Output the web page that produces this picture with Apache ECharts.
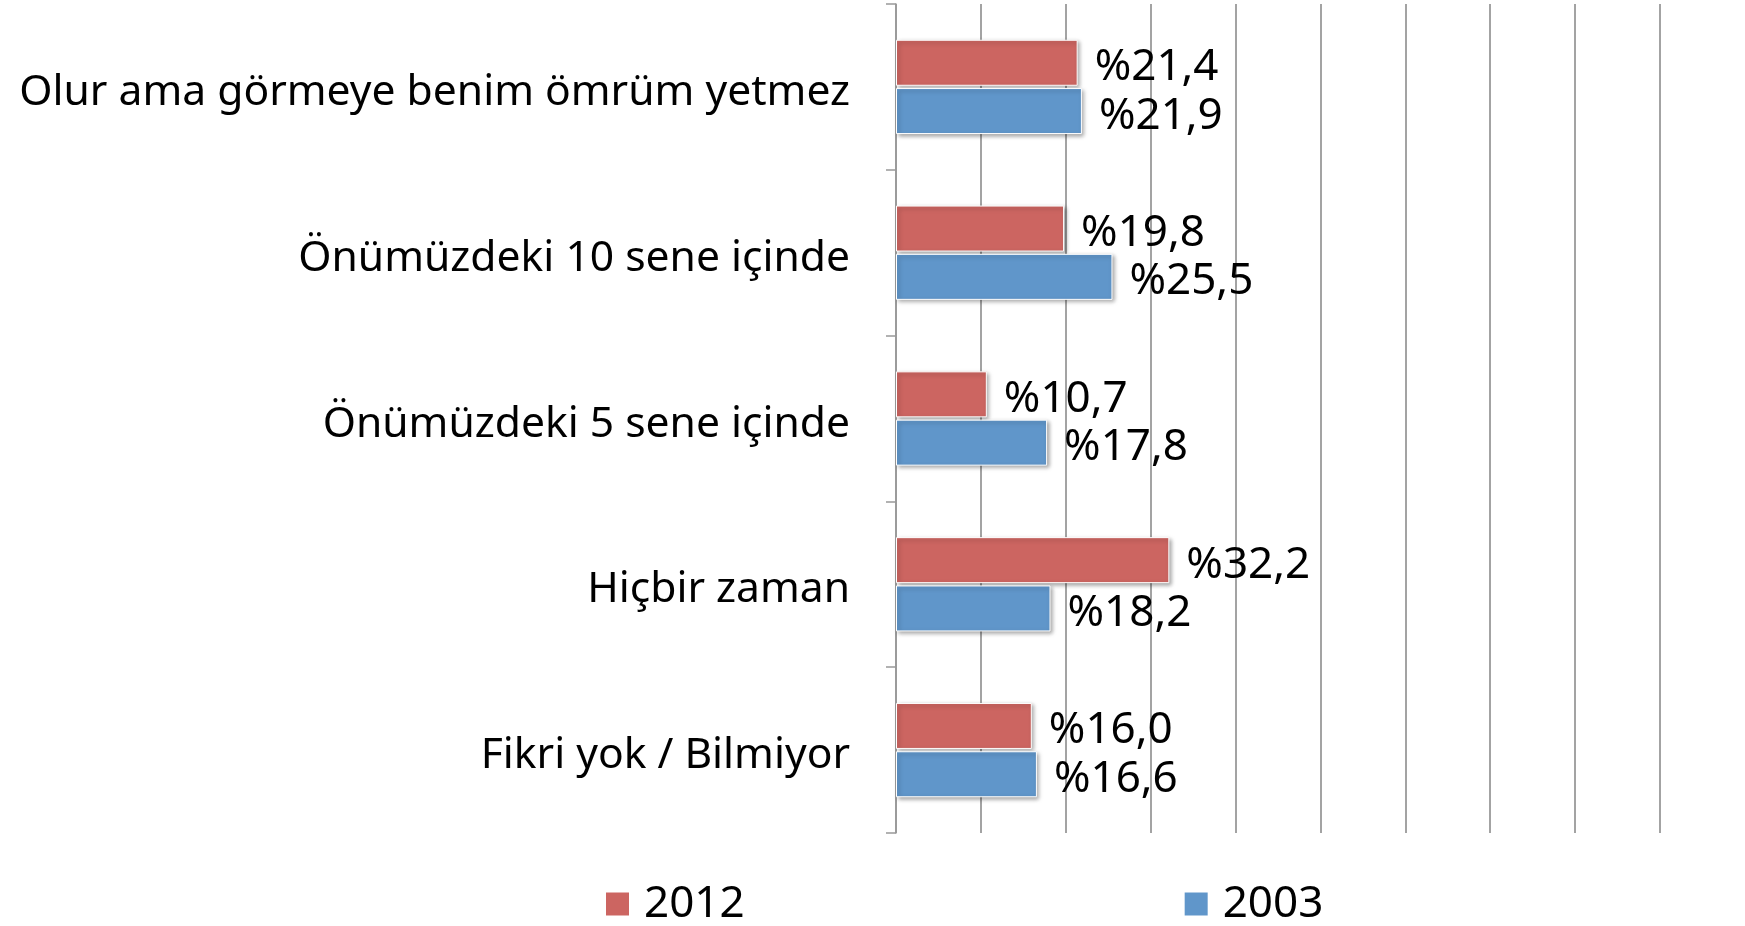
<!DOCTYPE html>
<html>
<head>
<meta charset="utf-8">
<script src="https://cdn.jsdelivr.net/npm/echarts@6/dist/echarts.min.js"></script>
<style>html,body{margin:0;padding:0;background:#fff;}#c{width:1745px;height:926px;}</style>
</head>
<body>
<div id="c"></div>
<script>
const categories = ["Olur ama görmeye benim ömrüm yetmez", "Önümüzdeki 10 sene içinde", "Önümüzdeki 5 sene içinde", "Hiçbir zaman", "Fikri yok / Bilmiyor"];
const seriesNames = ["2012", "2003"];
const values2012 = [21.4, 19.8, 10.7, 32.2, 16.0];
const values2003 = [21.9, 25.5, 17.8, 18.2, 16.6];
const xMin = 0, xMax = 90, xInterval = 10;

const FONT = "'Noto Sans', sans-serif";
const colors = ['#CC6561', '#6096CA'];
function fmt(p){ return '%' + p.value.toFixed(1).replace('.', ','); }
function mkSeries(name, data, color){
  return {
    name: name, type: 'bar', data: data,
    barWidth: 46, barGap: '5%',
    itemStyle: { color: color, borderColor: '#fff', borderWidth: 1,
      shadowBlur: 4, shadowColor: 'rgba(0,0,0,0.35)', shadowOffsetX: 2, shadowOffsetY: 2 },
    label: { show: true, position: 'right', distance: 17, formatter: fmt,
      fontFamily: FONT, fontSize: 44, color: '#000', offset: [0, 5] }
  };
}
const chart = echarts.init(document.getElementById('c'));
chart.setOption({
  animation: false,
  color: colors,
  grid: { left: 896, right: 85, top: 4, bottom: 93, containLabel: false },
  legend: {
    data: seriesNames, left: 604, top: 882, padding: 0, itemWidth: 25, itemHeight: 25, itemGap: 438,
    icon: 'rect',
    textStyle: { fontFamily: FONT, fontSize: 44, color: '#000', padding: [0,0,0,9] }
  },
  xAxis: {
    type: 'value', min: xMin, max: xMax, interval: xInterval,
    axisLine: { show: false }, axisTick: { show: false }, axisLabel: { show: false },
    splitLine: { show: true, lineStyle: { color: '#a3a3a3', width: 2 } }
  },
  yAxis: {
    type: 'category', data: categories, inverse: true,
    axisLine: { show: true, lineStyle: { color: '#999', width: 1.5 } },
    axisTick: { show: true, length: 10, lineStyle: { color: '#999', width: 1.5 } },
    axisLabel: { margin: 46, color: '#000',
      formatter: function(v){ return '{a|' + v + '}'; },
      rich: { a: { fontFamily: FONT, fontSize: 42.6, color: '#000', padding: [12, 0, 0, 0] } } }
  },
  series: [ mkSeries(seriesNames[0], values2012, colors[0]), mkSeries(seriesNames[1], values2003, colors[1]) ]
});
</script>
</body>
</html>
